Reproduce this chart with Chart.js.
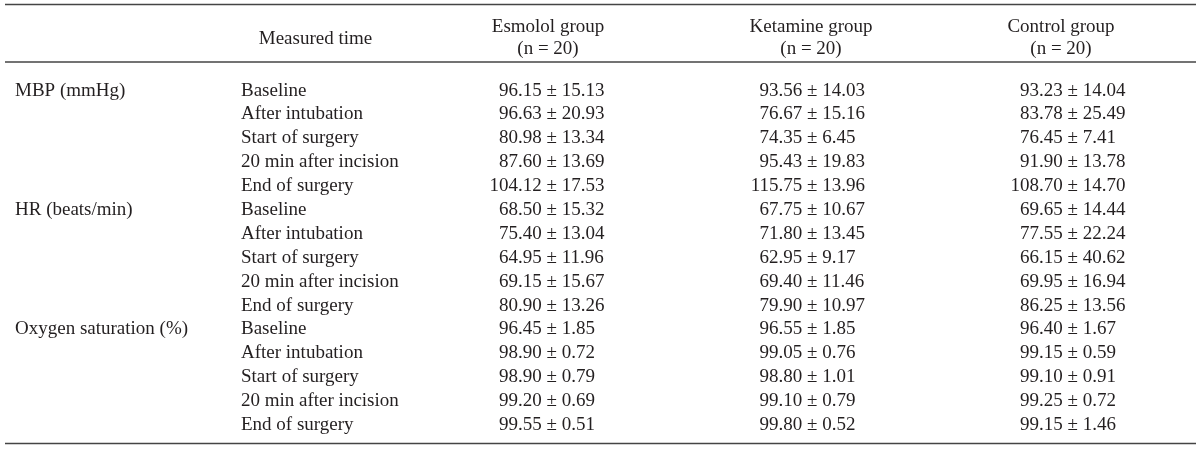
<!DOCTYPE html>
<html>
<head>
<meta charset="utf-8">
<script src="https://cdn.jsdelivr.net/npm/chart.js@4.4.1/dist/chart.umd.min.js"></script>
<style>
  html, body { margin: 0; padding: 0; background: #ffffff; }
  #wrap { width: 1200px; height: 449px; }
</style>
</head>
<body>
<div id="wrap"><canvas id="c" width="1200" height="449"></canvas></div>
<script>
// ---- data ----
const measures = ['MBP (mmHg)', 'HR (beats/min)', 'Oxygen saturation (%)'];
const times = ['Baseline', 'After intubation', 'Start of surgery', '20 min after incision', 'End of surgery'];
const groups = ['Esmolol group', 'Ketamine group', 'Control group'];
const groupN = [20, 20, 20];
const timeHeader = 'Measured time';

const esmololMean  = [96.15, 96.63, 80.98, 87.60, 104.12, 68.50, 75.40, 64.95, 69.15, 80.90, 96.45, 98.90, 98.90, 99.20, 99.55];
const esmololSD    = [15.13, 20.93, 13.34, 13.69, 17.53, 15.32, 13.04, 11.96, 15.67, 13.26, 1.85, 0.72, 0.79, 0.69, 0.51];
const ketamineMean = [93.56, 76.67, 74.35, 95.43, 115.75, 67.75, 71.80, 62.95, 69.40, 79.90, 96.55, 99.05, 98.80, 99.10, 99.80];
const ketamineSD   = [14.03, 15.16, 6.45, 19.83, 13.96, 10.67, 13.45, 9.17, 11.46, 10.97, 1.85, 0.76, 1.01, 0.79, 0.52];
const controlMean  = [93.23, 83.78, 76.45, 91.90, 108.70, 69.65, 77.55, 66.15, 69.95, 86.25, 96.40, 99.15, 99.10, 99.25, 99.15];
const controlSD    = [14.04, 25.49, 7.41, 13.78, 14.70, 14.44, 22.24, 40.62, 16.94, 13.56, 1.67, 0.59, 0.91, 0.72, 1.46];

// ---- derived ----
const rowKeys = measures.flatMap(m => times.map(t => m + ' | ' + t));
const means = [esmololMean, ketamineMean, controlMean];
const sds = [esmololSD, ketamineSD, controlSD];

// ---- layout / style ----
const FONT = '19px "Liberation Serif", "Times New Roman", serif';
const TEXT = '#231f20';
const RULE = '#444444';
const LABEL_X = 15, TIME_X = 241;
const TIME_HEADER_X = 315.5;
const GROUP_HEADER_X = [548, 811, 1061];
const RULE_LEFT = 5, RULE_RIGHT = 1196;
const RULES_Y = [4.5, 62, 443.5];

const tablePlugin = {
  id: 'tableText',
  afterDraw(chart) {
    const ctx = chart.ctx;
    const ys = chart.scales.y;
    ctx.save();
    // rules
    ctx.strokeStyle = RULE;
    ctx.lineWidth = 1.4;
    RULES_Y.forEach(y => {
      ctx.beginPath(); ctx.moveTo(RULE_LEFT, y); ctx.lineTo(RULE_RIGHT, y); ctx.stroke();
    });
    ctx.fillStyle = TEXT;
    ctx.font = FONT;
    ctx.textBaseline = 'alphabetic';
    // headers
    ctx.textAlign = 'center';
    ctx.fillText(timeHeader, TIME_HEADER_X, 43.5);
    groups.forEach((g, gi) => {
      ctx.fillText(g, GROUP_HEADER_X[gi], 32);
      ctx.fillText('(n = ' + groupN[gi] + ')', GROUP_HEADER_X[gi], 54);
    });
    // row labels
    ctx.textAlign = 'left';
    rowKeys.forEach((k, ri) => {
      const y = ys.getPixelForValue(ri);
      const mi = Math.floor(ri / times.length);
      const ti = ri % times.length;
      if (ti === 0) ctx.fillText(measures[mi], LABEL_X, y);
      ctx.fillText(times[ti], TIME_X, y);
    });
    // value cells, decimal aligned on the mean
    chart.data.datasets.forEach((ds, di) => {
      const meta = chart.getDatasetMeta(di);
      meta.data.forEach((el, i) => {
        const raw = ds.data[i];
        const m = raw.mean.toFixed(2).split('.');
        ctx.textAlign = 'right';
        ctx.fillText(m[0], el.x, el.y);
        ctx.textAlign = 'left';
        ctx.fillText('.' + m[1] + ' \u00b1 ' + raw.sd.toFixed(2), el.x, el.y);
      });
    });
    ctx.restore();
  }
};

new Chart(document.getElementById('c'), {
  type: 'scatter',
  data: {
    datasets: groups.map((g, gi) => ({
      label: g,
      data: means[gi].map((m, ri) => ({ x: g, y: rowKeys[ri], mean: m, sd: sds[gi][ri] })),
      pointRadius: 0,
      pointHoverRadius: 0,
      showLine: false
    }))
  },
  options: {
    responsive: false,
    animation: false,
    events: [],
    layout: { padding: { left: 518, right: 161, top: 95.5, bottom: 19 } },
    plugins: { legend: { display: false }, tooltip: { enabled: false } },
    scales: {
      x: { type: 'category', labels: groups, offset: false, display: false },
      y: { type: 'category', labels: rowKeys, offset: false, display: false }
    }
  },
  plugins: [tablePlugin]
});
</script>
</body>
</html>
